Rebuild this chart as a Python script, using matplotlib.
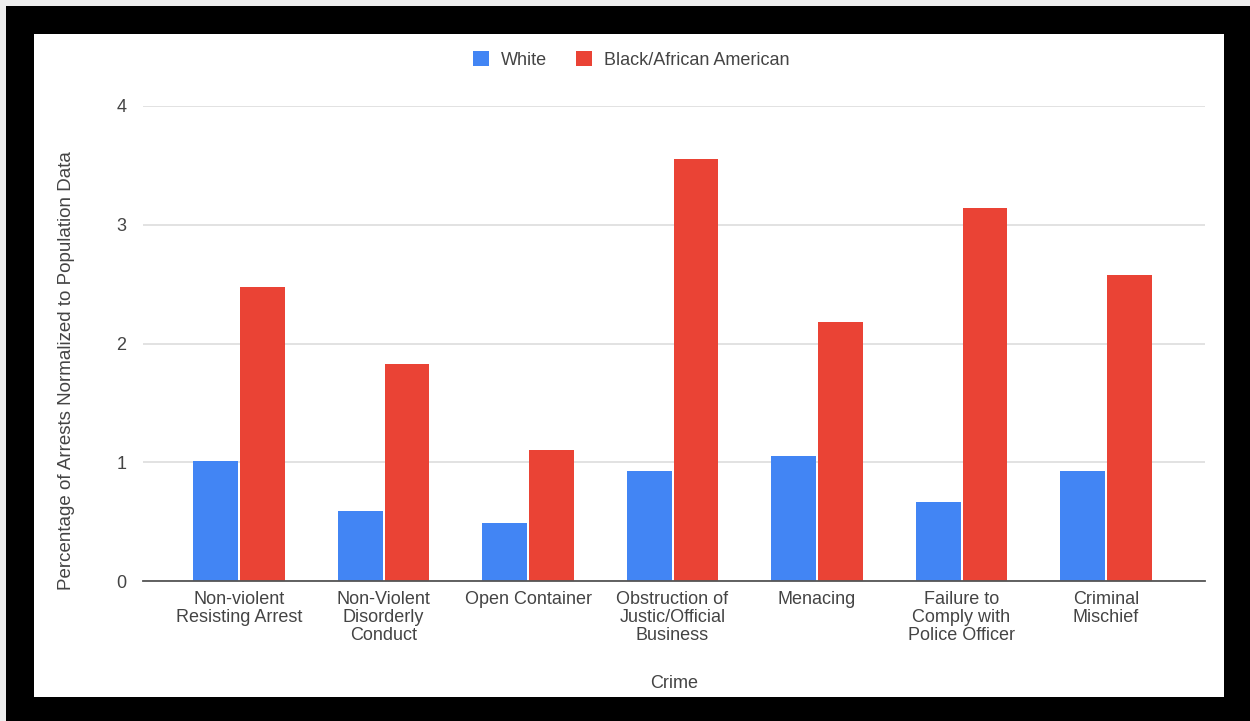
import matplotlib
matplotlib.use("Agg")
import matplotlib.pyplot as plt
from matplotlib.patches import Rectangle
import numpy as np

categories = ["Non-violent\nResisting Arrest", "Non-Violent\nDisorderly\nConduct", "Open Container",
              "Obstruction of\nJustic/Official\nBusiness", "Menacing",
              "Failure to\nComply with\nPolice Officer", "Criminal\nMischief"]
white_vals = [1.01, 0.59, 0.49, 0.93, 1.05, 0.665, 0.93]
black_vals = [2.48, 1.83, 1.10, 3.55, 2.18, 3.14, 2.58]
yticks = [0, 1, 2, 3, 4]

W, H = 1250, 721
FS = 13
plt.rcParams['font.family'] = ['Liberation Sans', 'DejaVu Sans']
fig = plt.figure(figsize=(W / 100, H / 100), dpi=100)
fig.patch.set_facecolor('black')

def frect(x0, y0top, x1, y1top, color):
    fig.patches.append(Rectangle((x0 / W, 1 - y1top / H), (x1 - x0) / W, (y1top - y0top) / H,
                                 transform=fig.transFigure, facecolor=color, edgecolor='none', zorder=-5))

frect(0, 0, W, 6, '#eeeeee')
frect(0, 0, 6, H, '#eeeeee')
frect(34, 34, 1224, 697, 'white')

ax = fig.add_axes([143 / W, (H - 581) / H, 1062 / W, 475 / H])
ax.set_zorder(2)
ax.set_facecolor('white')
x = np.arange(len(categories))
bw = 0.31
gap = 0.007
ax.bar(x - bw / 2 - gap, white_vals, width=bw, color='#4285F4', label='White', zorder=3)
ax.bar(x + bw / 2 + gap, black_vals, width=bw, color='#EA4335', label='Black/African American', zorder=3)

ax.set_xlim(-0.665, 6.685)
ax.set_ylim(0, 4)
ax.set_yticks(yticks)
ax.set_yticklabels([str(t) for t in yticks])
ax.grid(axis='y', color='#dddddd', linewidth=1.2, zorder=0)
ax.set_axisbelow(True)
for s in ['top', 'right', 'left']:
    ax.spines[s].set_visible(False)
ax.spines['bottom'].set_color('#555555')
ax.spines['bottom'].set_linewidth(1.3)
ax.spines['bottom'].set_zorder(4)
ax.set_xticks(x)
ax.set_xticklabels(categories, fontsize=FS, color='#444444', va='top', linespacing=1.09)
ax.tick_params(axis='x', length=0, pad=7)
ax.tick_params(axis='y', length=0, pad=12, labelsize=FS, labelcolor='#444444')

ax.set_xlabel('Crime', fontsize=FS, color='#444444')
ax.xaxis.label.set_va('center')
ax.xaxis.set_label_coords(0.5, -(683 - 581) / 475)
ax.set_ylabel('Percentage of Arrests Normalized to Population Data', fontsize=13.5, color='#444444')
ax.yaxis.label.set_va('center')
ax.yaxis.set_label_coords(-(143 - 67) / 1062, (581 - 371) / 475)

leg = fig.legend(loc='center', bbox_to_anchor=(631 / W, 1 - 60 / H), ncol=2, frameon=False,
                 fontsize=FS, handlelength=0.9, handleheight=0.9, columnspacing=1.6, handletextpad=0.65)
leg.set_zorder(3)
for t in leg.get_texts():
    t.set_color('#444444')

fig.savefig('out.png', dpi=100, facecolor=fig.get_facecolor())
